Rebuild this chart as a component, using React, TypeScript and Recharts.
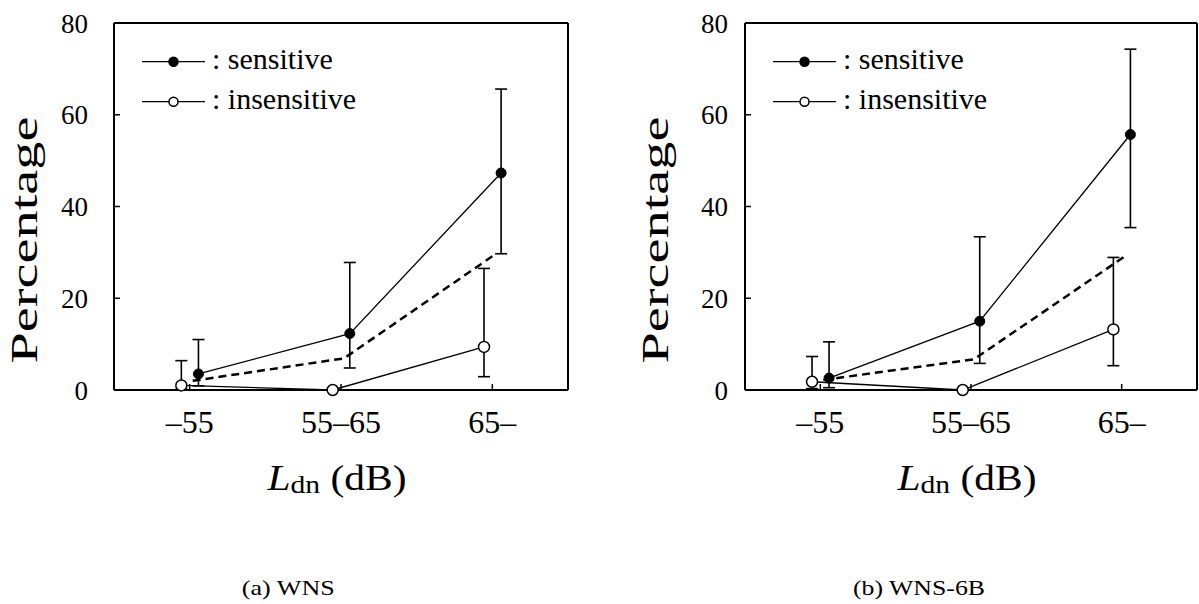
import { LineChart, Line, XAxis, YAxis, ErrorBar, Legend } from "recharts";

// category positions on a numeric x axis, and their tick labels
const catPos = [1, 2, 3];
const catLabels = ["–55", "55–65", "65–"];
const yTicks = [0, 20, 40, 60, 80];
const legendOrder = ["sensitive", "insensitive"];

// (a) WNS
const wnsSens = [3.5, 12.3, 47.3];
const wnsSensLow = [0.9, 4.8, 29.7];
const wnsSensHigh = [11.0, 27.8, 65.6];
const wnsInsens = [1.0, 0, 9.4];
const wnsInsensLow = [0.2, null, 2.9];
const wnsInsensHigh = [6.4, null, 26.5];
const wnsAll = [2.0, 6.9, 29.6];

// (b) WNS-6B
const b6Sens = [2.6, 15.0, 55.7];
const b6SensLow = [0.5, 5.8, 35.4];
const b6SensHigh = [10.5, 33.4, 74.3];
const b6Insens = [1.8, 0, 13.2];
const b6InsensLow = [0.3, null, 5.3];
const b6InsensHigh = [7.3, null, 28.9];
const b6All = [2.2, 6.7, 29.1];

const FONT = "Liberation Serif, Tinos, Times New Roman, Times, serif";
const SENS_SHIFT = 0.058;
const INSENS_SHIFT = -0.055;
const ALL_SHIFT = 0.02;

type Num = number | null;

function series(vals: number[], shift: number, low?: Num[], high?: Num[]) {
  return vals.map((v, i) => {
    const lo = low ? low[i] : null;
    const hi = high ? high[i] : null;
    return {
      x: catPos[i] + shift,
      y: v,
      err: lo == null || hi == null ? null : [v - lo, hi - v],
    };
  });
}

function LegendBox({ payload }: any) {
  const items = (payload || [])
    .filter((p: any) => legendOrder.includes(p.value))
    .sort((a: any, b: any) => legendOrder.indexOf(a.value) - legendOrder.indexOf(b.value));
  return (
    <svg width={320} height={90} style={{ display: "block" }}>
      {items.map((p: any, i: number) => {
        const cy = 21.7 + i * 40;
        const filled = p.value === "sensitive";
        return (
          <g key={p.value}>
            <line x1={0} y1={cy} x2={63} y2={cy} stroke="#000" strokeWidth={1.3} />
            <circle
              cx={31.5}
              cy={cy}
              r={4.5}
              fill={filled ? "#000" : "#fff"}
              stroke="#000"
              strokeWidth={1.5}
            />
            <text x={70} y={cy + 7} style={{ fontFamily: FONT }} fontSize={30} fill="#000">
              {": " + p.value}
            </text>
          </g>
        );
      })}
    </svg>
  );
}

interface PanelProps {
  sens: number[];
  sensLow: Num[];
  sensHigh: Num[];
  insens: number[];
  insensLow: Num[];
  insensHigh: Num[];
  all: number[];
  width: number;
  yAxisWidth: number;
  yTickMargin: number;
  marginRight: number;
}

function Panel(p: PanelProps) {
  const sensData = series(p.sens, SENS_SHIFT, p.sensLow, p.sensHigh);
  const insensData = series(p.insens, INSENS_SHIFT, p.insensLow, p.insensHigh);
  const allData = series(p.all, ALL_SHIFT);

  const yLabel = (props: any) => {
    const vb = props.viewBox || {};
    const x = vb.x + vb.width - 77.5;
    const y = vb.y + vb.height / 2 + 33.5;
    return (
      <text
        x={x}
        y={y}
        transform={`rotate(-90 ${x} ${y})`}
        textAnchor="middle"
        style={{ fontFamily: FONT }}
        fontSize={38}
        fill="#000"
        textLength={247}
        lengthAdjust="spacingAndGlyphs"
      >
        Percentage
      </text>
    );
  };

  const xLabel = (props: any) => {
    const vb = props.viewBox || {};
    const x = vb.x + vb.width / 2 - 4;
    const y = vb.y + 100;
    return (
      <text
        x={x}
        y={y}
        textAnchor="middle"
        style={{ fontFamily: FONT }}
        fontSize={35}
        fill="#000"
        textLength={139}
        lengthAdjust="spacingAndGlyphs"
      >
        <tspan fontStyle="italic">L</tspan>
        <tspan fontSize={25} dy={3}>dn</tspan>
        <tspan dy={-3}> (dB)</tspan>
      </text>
    );
  };

  const tickFont = { style: { fontFamily: FONT }, fill: "#000" };

  return (
    <LineChart
      width={p.width}
      height={530}
      margin={{ top: 22, right: p.marginRight, bottom: 0, left: 0 }}
      style={{ fontFamily: FONT }}
    >
      <XAxis
        dataKey="x"
        type="number"
        domain={[0.5, 3.5]}
        ticks={catPos}
        tickFormatter={(v: number) => catLabels[catPos.indexOf(v)] ?? ""}
        height={140}
        tickSize={-6}
        tickMargin={26}
        tick={{ ...tickFont, fontSize: 32 }}
        axisLine={{ stroke: "#000", strokeWidth: 2 }}
        tickLine={{ stroke: "#000", strokeWidth: 1.5 }}
        label={xLabel}
      />
      <XAxis
        xAxisId="top"
        orientation="top"
        type="number"
        domain={[0.5, 3.5]}
        ticks={catPos}
        height={1}
        tickSize={-6}
        tick={false}
        axisLine={{ stroke: "#000", strokeWidth: 2 }}
        tickLine={{ stroke: "#000", strokeWidth: 1.5 }}
      />
      <YAxis
        type="number"
        domain={[0, 80]}
        ticks={yTicks}
        width={p.yAxisWidth}
        tickSize={-6}
        tickMargin={p.yTickMargin}
        tick={{ ...tickFont, fontSize: 27 }}
        axisLine={{ stroke: "#000", strokeWidth: 2 }}
        tickLine={{ stroke: "#000", strokeWidth: 1.5 }}
        label={yLabel}
      />
      <YAxis
        yAxisId="r"
        orientation="right"
        type="number"
        domain={[0, 80]}
        ticks={yTicks}
        width={1}
        tickSize={-6}
        tick={false}
        axisLine={{ stroke: "#000", strokeWidth: 2 }}
        tickLine={{ stroke: "#000", strokeWidth: 1.5 }}
      />
      <Legend
        layout="horizontal"
        align="center"
        verticalAlign="middle"
        content={<LegendBox />}
        wrapperStyle={{ top: 40, left: p.yAxisWidth + 28, width: 320, height: 90 }}
      />
      <Line
        data={sensData}
        dataKey="y"
        name="sensitive"
        type="linear"
        stroke="#000"
        strokeWidth={1.3}
        dot={{ r: 5, fill: "#000", stroke: "#000", strokeWidth: 1 }}
        activeDot={false}
        isAnimationActive={false}
      >
        <ErrorBar dataKey="err" direction="y" width={6} stroke="#000" strokeWidth={1.6} />
      </Line>
      <Line
        data={insensData}
        dataKey="y"
        name="insensitive"
        type="linear"
        stroke="#000"
        strokeWidth={1.3}
        dot={{ r: 5.5, fill: "#fff", stroke: "#000", strokeWidth: 1.5 }}
        activeDot={false}
        isAnimationActive={false}
      >
        <ErrorBar dataKey="err" direction="y" width={6} stroke="#000" strokeWidth={1.6} />
      </Line>
      <Line
        data={allData}
        dataKey="y"
        name="all"
        type="linear"
        stroke="#000"
        strokeWidth={2.5}
        strokeDasharray="8 5"
        dot={false}
        activeDot={false}
        legendType="none"
        isAnimationActive={false}
      />
    </LineChart>
  );
}

export default function App() {
  return (
    <div
      style={{
        position: "absolute",
        left: 0,
        top: 0,
        width: 1199,
        height: 604,
        background: "#fff",
      }}
    >
      <div style={{ position: "absolute", left: 0, top: 0 }}>
        <Panel
          sens={wnsSens}
          sensLow={wnsSensLow}
          sensHigh={wnsSensHigh}
          insens={wnsInsens}
          insensLow={wnsInsensLow}
          insensHigh={wnsInsensHigh}
          all={wnsAll}
          width={600}
          yAxisWidth={114}
          yTickMargin={32}
          marginRight={31}
        />
      </div>
      <div style={{ position: "absolute", left: 600, top: 0 }}>
        <Panel
          sens={b6Sens}
          sensLow={b6SensLow}
          sensHigh={b6SensHigh}
          insens={b6Insens}
          insensLow={b6InsensLow}
          insensHigh={b6InsensHigh}
          all={b6All}
          width={599}
          yAxisWidth={145}
          yTickMargin={23}
          marginRight={1}
        />
      </div>
      <svg
        width={1199}
        height={74}
        style={{ position: "absolute", left: 0, top: 530, fontFamily: FONT }}
      >
        <text
          x={288.3}
          y={65}
          textAnchor="middle"
          fontSize={21}
          fill="#000"
          textLength={93}
          lengthAdjust="spacingAndGlyphs"
        >
          (a) WNS
        </text>
        <text
          x={919}
          y={65}
          textAnchor="middle"
          fontSize={21}
          fill="#000"
          textLength={132}
          lengthAdjust="spacingAndGlyphs"
        >
          (b) WNS-6B
        </text>
      </svg>
    </div>
  );
}
